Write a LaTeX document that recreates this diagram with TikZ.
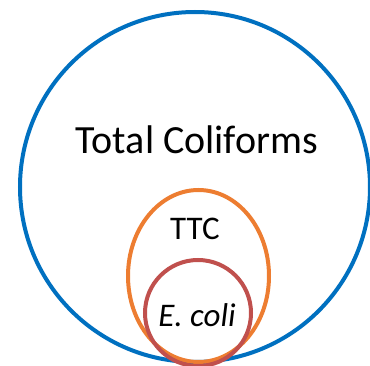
\documentclass[tikz,border=0pt]{standalone}
\usepackage{fontspec}
\setmainfont{Carlito}
\usetikzlibrary{shapes.geometric}
\definecolor{ctotal}{HTML}{0070C0}
\definecolor{cttc}{HTML}{ED7D31}
\definecolor{cecoli}{HTML}{C0504D}
\tikzset{
  ring/.style={draw, line width=4pt, inner sep=0pt},
  lbl/.style={inner sep=0pt, text=black},
}

\begin{document}
\begin{tikzpicture}[x=1pt, y=-1pt]
  \useasboundingbox (0,0) rectangle (370,366);
  \clip (0,0) rectangle (370,366);
  \node[ring, circle, draw=ctotal, minimum size=350pt] (total) at (195,187) {};
  \node[ring, ellipse, draw=cttc, minimum width=141pt, minimum height=172pt] (ttc) at (198.5,276) {};
  \node[ring, circle, draw=cecoli, minimum size=106pt] (ecoli) at (198,313) {};
  \node[lbl, font=\fontsize{40}{44}\selectfont] (totallbl) at (197,140) {Total Coliforms};
  \node[lbl, font=\fontsize{33}{36}\selectfont] (ttclbl) at (195,229) {TTC};
  \node[lbl, font=\fontsize{33}{36}\selectfont\itshape] (ecolilbl) at (197,315) {E. coli};
\end{tikzpicture}
\end{document}
